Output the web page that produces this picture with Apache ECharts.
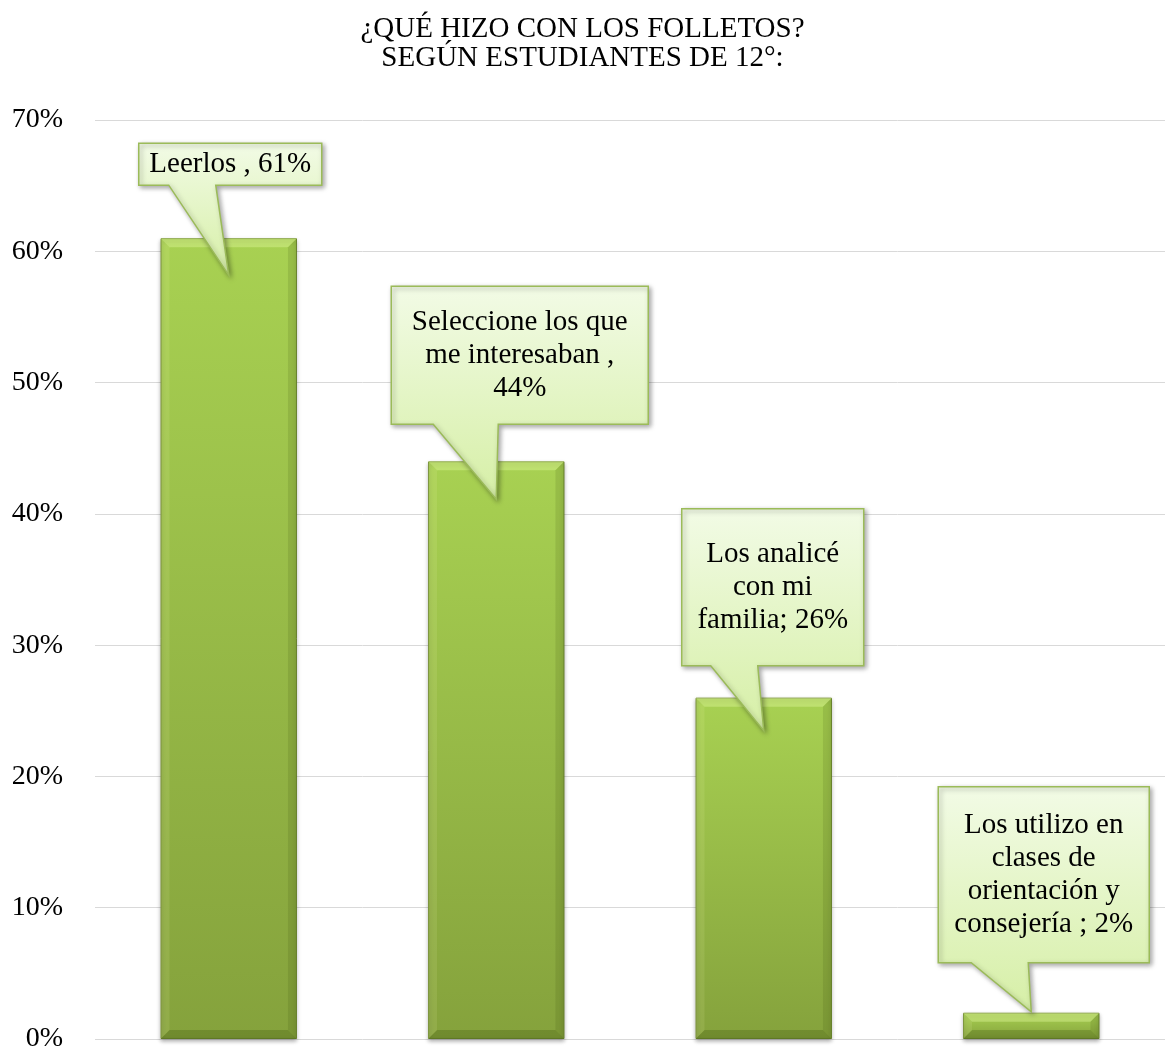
<!DOCTYPE html>
<html>
<head>
<meta charset="utf-8">
<title>Folletos</title>
<script src="https://cdn.jsdelivr.net/npm/echarts@6/dist/echarts.min.js"></script>
<style>
  html, body { margin: 0; padding: 0; background: #ffffff; }
  #main { width: 1165px; height: 1053px; }
</style>
</head>
<body>
<div id="main"></div>
<script>
// datos del grafico
var categorias = [
  'Leerlos',
  'Seleccione los que me interesaban',
  'Los analicé con mi familia',
  'Los utilizo en clases de orientación y consejería'
];
var porcentajes = [61, 44, 26, 2];
var etiquetas = [
  'Leerlos , 61%',
  'Seleccione los que\nme interesaban ,\n44%',
  'Los analicé\ncon mi\nfamilia; 26%',
  'Los utilizo en\nclases de\norientación y\nconsejería ; 2%'
];
var ticksY = [0, 10, 20, 30, 40, 50, 60, 70];

// posicion de cada globo respecto a la punta (px)
var globos = [
  { tipDy: 37, l: -90, r: 93, t: -132, b: -90, bl: -60, br: -13 },
  { tipDy: 38, l: -105, r: 152, t: -213, b: -75, bl: -63, br: 2 },
  { tipDy: 33, l: -82, r: 100, t: -222, b: -65, bl: -53, br: -6 },
  { tipDy: -1, l: -93, r: 118, t: -225, b: -49, bl: -60, br: -3 }
];

var fuente = '"Liberation Serif", "Times New Roman", serif';
var hueco = 0.49; // barCategoryGap
var chart = echarts.init(document.getElementById('main'));

// bisel de las barras (efecto 3D de Excel)
function renderBisel(params, api) {
  var p0 = api.coord([api.value(0), 0]);
  var p1 = api.coord([api.value(0), api.value(1)]);
  var bw = api.size([1, 0])[0] * (1 - hueco);
  var x0 = p0[0] - bw / 2, x1 = p0[0] + bw / 2;
  var yT = p1[1], yB = p0[1];
  var d = Math.min(9, (yB - yT) / 2);
  return {
    type: 'group',
    children: [
      { type: 'polygon', shape: { points: [[x0, yT], [x1, yT], [x1 - d, yT + d], [x0 + d, yT + d]] },
        style: { fill: 'rgba(235,255,170,0.35)' } },
      { type: 'polygon', shape: { points: [[x0, yT], [x0 + d, yT + d], [x0 + d, yB - d], [x0, yB]] },
        style: { fill: 'rgba(255,255,200,0.10)' } },
      { type: 'polygon', shape: { points: [[x1, yT], [x1 - d, yT + d], [x1 - d, yB - d], [x1, yB]] },
        style: { fill: 'rgba(40,60,0,0.12)' } },
      { type: 'polygon', shape: { points: [[x0, yB], [x0 + d, yB - d], [x1 - d, yB - d], [x1, yB]] },
        style: { fill: 'rgba(40,60,0,0.22)' } }
    ]
  };
}

function renderGlobo(params, api) {
  var i = params.dataIndex;
  var g = globos[i];
  var p = api.coord([api.value(0), api.value(1)]);
  var tx = p[0], ty = p[1] + g.tipDy;
  var L = tx + g.l, R = tx + g.r, T = ty + g.t, B = ty + g.b;
  var pts = [[L, T], [R, T], [R, B], [tx + g.br, B], [tx, ty], [tx + g.bl, B], [L, B]];
  return {
    type: 'group',
    children: [
      {
        type: 'polygon',
        shape: { points: pts },
        style: {
          fill: new echarts.graphic.LinearGradient(0, 0, 0, 1, [
            { offset: 0, color: '#f2fbe6' },
            { offset: 1, color: '#d6efa6' }
          ]),
          stroke: '#9bbb59',
          lineWidth: 1.5,
          shadowColor: 'rgba(0,0,0,0.35)',
          shadowBlur: 5,
          shadowOffsetX: 2,
          shadowOffsetY: 2
        }
      },
      {
        type: 'text',
        style: {
          text: etiquetas[i],
          x: (L + R) / 2,
          y: (T + B) / 2,
          align: 'center',
          verticalAlign: 'middle',
          fill: '#000000',
          font: '29px ' + fuente,
          lineHeight: 33
        }
      }
    ]
  };
}

chart.setOption({
  animation: false,
  title: {
    text: '¿QUÉ HIZO CON LOS FOLLETOS?\nSEGÚN ESTUDIANTES DE 12°:',
    left: 'center',
    top: 10,
    textStyle: {
      fontFamily: fuente,
      fontSize: 29,
      fontWeight: 'normal',
      color: '#000000',
      lineHeight: 29
    }
  },
  grid: { left: 95, right: 0, top: 120, bottom: 14 },
  xAxis: {
    type: 'category',
    data: categorias,
    axisLine: { show: false },
    axisTick: { show: false },
    axisLabel: { show: false }
  },
  yAxis: {
    type: 'value',
    min: ticksY[0],
    max: ticksY[ticksY.length - 1],
    interval: 10,
    axisLabel: {
      formatter: '{value}%',
      fontFamily: fuente,
      fontSize: 28,
      color: '#000000',
      margin: 32
    },
    splitLine: { lineStyle: { color: '#d9d9d9', width: 1 } }
  },
  series: [
    {
      type: 'bar',
      data: porcentajes,
      barCategoryGap: (hueco * 100) + '%',
      itemStyle: {
        color: new echarts.graphic.LinearGradient(0, 0, 0, 1, [
          { offset: 0, color: '#a8d152' },
          { offset: 1, color: '#85a23c' }
        ]),
        borderColor: '#6f8a30',
        borderWidth: 1,
        shadowColor: 'rgba(0,0,0,0.3)',
        shadowBlur: 4,
        shadowOffsetY: 2
      }
    },
    {
      type: 'custom',
      z: 3,
      silent: true,
      data: porcentajes.map(function (v, i) { return [i, v]; }),
      renderItem: renderBisel
    },
    {
      type: 'custom',
      z: 10,
      data: porcentajes.map(function (v, i) { return [i, v]; }),
      renderItem: renderGlobo
    }
  ]
});
</script>
</body>
</html>
